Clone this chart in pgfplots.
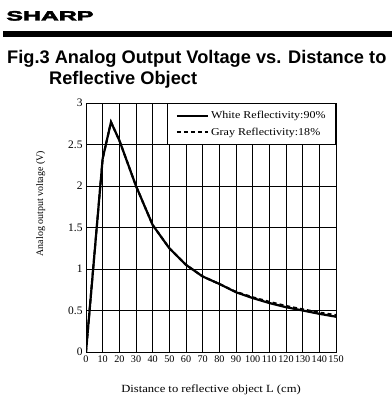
\documentclass[border=0pt]{standalone}
\usepackage{pgfplots}
\pgfplotsset{compat=1.18}
\usepackage{fontspec}
\setmainfont{Liberation Serif}
\newfontfamily\wideserif{Liberation Serif}[FakeStretch=1.15]
\newfontfamily\headsans{Liberation Sans}
\newfontfamily\sharpfont{Liberation Sans Bold}[FakeBold=3]
\pgfplotstableread{
x y
0 0
10 2.33
15 2.77
20 2.55
30 2.00
40 1.53
50 1.25
60 1.05
70 0.91
80 0.82
90 0.72
100 0.65
110 0.59
120 0.54
130 0.50
140 0.46
150 0.425
}\white
\pgfplotstableread{
x y
0 0
10 2.33
15 2.77
20 2.55
30 2.00
40 1.53
50 1.25
60 1.05
70 0.91
80 0.82
90 0.725
100 0.66
110 0.605
120 0.555
130 0.515
140 0.475
150 0.445
}\gray
\begin{document}
\begin{tikzpicture}
\useasboundingbox (0,0) rectangle (392bp,413bp);
\fill[black] (3bp,382bp) rectangle (392bp,375.5bp);
\node[anchor=base west, inner sep=0, xscale=1.85] at (6bp,392.5bp) {\sharpfont\fontsize{13.5}{13.5}\selectfont SHARP};
\node[anchor=base west, inner sep=0] at (7bp,349.7bp) {\headsans\bfseries\fontsize{18.3}{18.3}\selectfont Fig.3 Analog Output Voltage vs. Distance to};
\node[anchor=base west, inner sep=0] at (49bp,328bp) {\headsans\bfseries\fontsize{18.3}{18.3}\selectfont Reflective Object};
\begin{axis}[
  at={(86bp,61bp)}, anchor=south west,
  scale only axis, width=250bp, height=249bp,
  xmin=0, xmax=150, ymin=0, ymax=3,
  xtick={0,10,...,150}, ytick={0,0.5,...,3},
  grid=major,
  major grid style={black, line width=0.8bp},
  axis line style={black, line width=0.8bp},
  major tick length=0pt,
  /pgf/number format/assume math mode=true,
  xticklabel style={font=\fontsize{10.2}{10.2}\selectfont, inner xsep=0pt, inner ysep=4bp},
  yticklabel style={font=\fontsize{11.5}{11.5}\selectfont},
  xlabel={Distance to reflective object L (cm)},
  xlabel style={at={(axis description cs:0.5,-0.161)}, anchor=base, font=\wideserif\fontsize{11}{11}\selectfont, inner sep=0pt},
  ylabel={Analog output voltage (V)},
  ylabel style={at={(axis description cs:-0.172,0.596)}, anchor=base, font=\fontsize{10}{10}\selectfont, inner sep=0pt},
  legend cell align=left,
  legend style={at={(1,1)}, anchor=north east, draw=black, line width=0.8bp, fill=white,
    font=\wideserif\fontsize{10.5}{10.5}\selectfont, inner xsep=8bp, inner ysep=6bp, row sep=3.5bp},
  legend image code/.code={\draw[#1] (0bp,0bp) -- (31bp,0bp);},
]
\addplot[black, line width=2.2bp] table {\white};
\addlegendentry{White Reflectivity:90\%}
\addplot[black, line width=2bp, dash pattern=on 4bp off 3bp] table {\gray};
\addlegendentry{Gray Reflectivity:18\%}
\end{axis}
\end{tikzpicture}
\end{document}
